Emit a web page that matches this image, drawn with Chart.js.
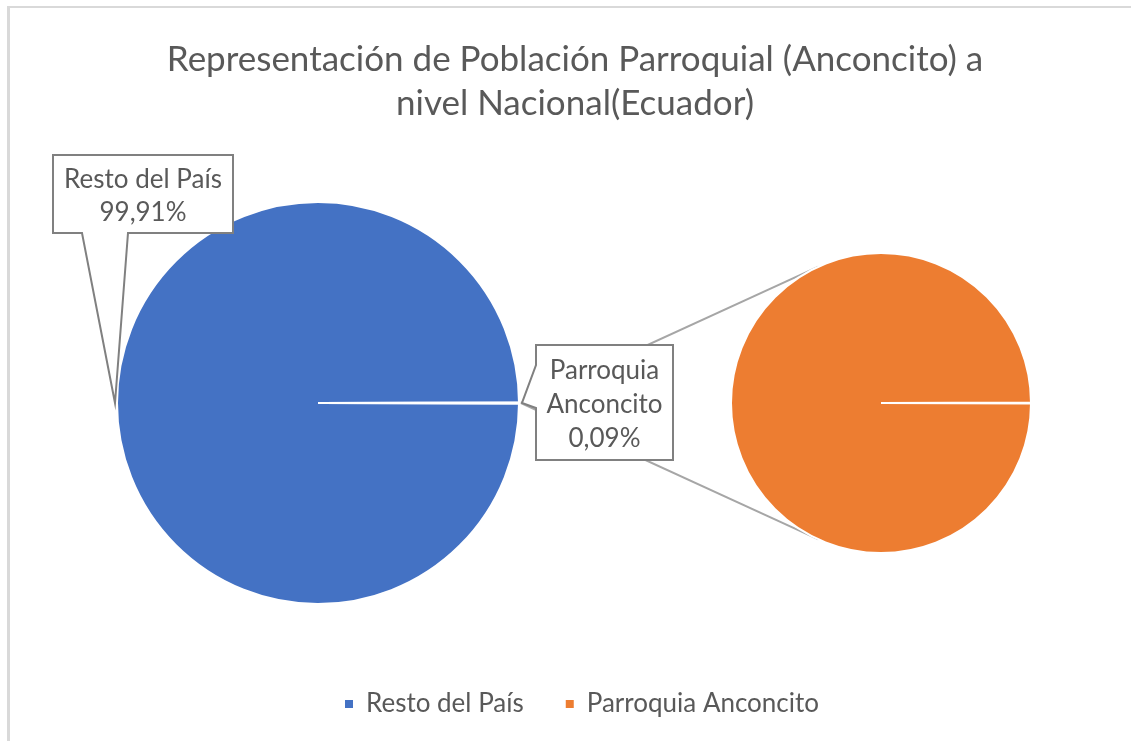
<!DOCTYPE html>
<html lang="es">
<head>
<meta charset="utf-8">
<title>Población Parroquial Anconcito</title>
<script src="https://cdn.jsdelivr.net/npm/chart.js@4.4.1/dist/chart.umd.min.js"></script>
<style>
  html, body { margin: 0; padding: 0; background: #fff; }
  #wrap { position: relative; width: 1131px; height: 741px; overflow: hidden; }
  #frame { position: absolute; left: 7px; top: 6px; width: 1200px; height: 800px;
           border-left: 3px solid #d9d9d9; border-top: 2px solid #d9d9d9; }
  #mainChart { position: absolute; left: 0; top: 0; }
  #otherChart { position: absolute; left: 721px; top: 243px; }
</style>
</head>
<body>
<div id="wrap">
  <div id="frame"></div>
  <canvas id="mainChart" width="1131" height="741"></canvas>
  <canvas id="otherChart" width="320" height="320"></canvas>
</div>
<script>
'use strict';

//datos: porcentaje de la poblacion nacional
var categories = ['Resto del País', 'Parroquia Anconcito']
var shares = [99.91, 0.09]
var otherCategories = ['Parroquia Anconcito']
var otherShares = [0.09]
var sliceColors = ['#4472C4', '#ED7D31']
var titleLines = ['Representación de Población Parroquial (Anconcito) a', 'nivel Nacional(Ecuador)']

var textColor = '#595959'
var fontFamily = "Lato, 'Open Sans', sans-serif"
var labelSize = 26

//where the main pie sits on the page
var pieArea = { left: 116, top: 201, right: 520, bottom: 605 }

function pct(v){
    return v.toFixed(2).replace('.', ',') + '%'
}

//the second pie (the "pie of pie" breakdown)
var otherChart = new Chart(document.getElementById('otherChart'), {
    type: 'pie',
    data: {
        labels: otherCategories,
        datasets: [{
            data: otherShares,
            backgroundColor: [sliceColors[1]],
            borderColor: '#ffffff',
            borderWidth: 2,
            rotation: 90.15,
            circumference: 359.7
        }]
    },
    options: {
        responsive: false,
        animation: false,
        layout: { padding: 9 },
        plugins: { legend: { display: false }, tooltip: { enabled: false }, title: { display: false } }
    }
})

var placePie = {
    id: 'placePie',
    afterLayout(chart){
        Object.assign(chart.chartArea, pieArea, {
            width: pieArea.right - pieArea.left,
            height: pieArea.bottom - pieArea.top
        })
        //legend sits a little right of centre in the original
        chart.legend.left += 7
        chart.legend.right += 7
    }
}

function drawCallout(ctx, points, lines, cx, cy, gap){
    ctx.beginPath()
    ctx.moveTo(points[0][0], points[0][1])
    for(let i = 1; i < points.length; i++){
        ctx.lineTo(points[i][0], points[i][1])
    }
    ctx.closePath()
    ctx.fillStyle = '#ffffff'
    ctx.fill()
    ctx.strokeStyle = '#808080'
    ctx.lineWidth = 2
    ctx.lineJoin = 'miter'
    ctx.stroke()

    ctx.fillStyle = textColor
    ctx.font = labelSize + 'px ' + fontFamily
    ctx.textAlign = 'center'
    ctx.textBaseline = 'middle'
    let y0 = cy - gap * (lines.length - 1) / 2
    for(let i = 0; i < lines.length; i++){
        ctx.fillText(lines[i], cx, y0 + i * gap)
    }
}

var callouts = {
    id: 'callouts',
    afterDatasetsDraw(chart){
        let ctx = chart.ctx
        let big = chart.getDatasetMeta(0).data[0]
        let cx = big.x, cy = big.y, r = big.outerRadius

        //connector lines from the small slice to the second pie
        let other = otherChart.getDatasetMeta(0).data[0]
        let ox = otherChart.canvas.offsetLeft + other.x
        let oy = otherChart.canvas.offsetTop + other.y
        let orad = other.outerRadius
        let sx = cx + r + 2, sy = cy
        let th = Math.acos(orad / (ox - sx))
        ctx.save()
        ctx.strokeStyle = '#a6a6a6'
        ctx.lineWidth = 2
        for(let s = -1; s <= 1; s += 2){
            ctx.beginPath()
            ctx.moveTo(sx, sy)
            ctx.lineTo(ox - orad * Math.cos(th), oy + s * orad * Math.sin(th))
            ctx.stroke()
        }

        //label "Resto del País"
        let b = { x: 53, y: 155, w: 180, h: 78 }
        drawCallout(ctx, [
            [b.x, b.y], [b.x + b.w, b.y], [b.x + b.w, b.y + b.h],
            [128, b.y + b.h], [cx - r - 2, cy], [82, b.y + b.h], [b.x, b.y + b.h]
        ], [categories[0], pct(shares[0])], b.x + b.w / 2, b.y + b.h / 2 + 2, 33)

        //label "Parroquia Anconcito"
        b = { x: 536, y: 345, w: 137, h: 115 }
        drawCallout(ctx, [
            [b.x, b.y], [b.x + b.w, b.y], [b.x + b.w, b.y + b.h], [b.x, b.y + b.h],
            [b.x, 408], [cx + r + 3, cy], [b.x, 365]
        ], categories[1].split(' ').concat([pct(shares[1])]), b.x + b.w / 2, b.y + b.h / 2 + 2, 34)
        ctx.restore()
    }
}

var mainChart = new Chart(document.getElementById('mainChart'), {
    type: 'pie',
    data: {
        labels: categories,
        datasets: [{
            data: shares,
            backgroundColor: sliceColors,
            borderColor: '#ffffff',
            borderWidth: 2,
            rotation: 90 + shares[1] * 3.6 / 2
        }]
    },
    options: {
        responsive: false,
        animation: false,
        layout: { padding: { left: 19, right: 0, top: 0, bottom: 14 } },
        plugins: {
            tooltip: { enabled: false },
            title: {
                display: true,
                text: titleLines,
                color: textColor,
                font: { family: fontFamily, size: 35, weight: 'normal', lineHeight: 1.25 },
                padding: { top: 38, bottom: 0 }
            },
            legend: {
                position: 'bottom',
                labels: {
                    color: textColor,
                    font: { family: fontFamily, size: labelSize },
                    boxWidth: 8,
                    boxHeight: 8,
                    padding: 42,
                    generateLabels(chart){
                        let items = Chart.overrides.pie.plugins.legend.labels.generateLabels(chart)
                        items.forEach(it => { it.lineWidth = 0 })
                        return items
                    }
                }
            }
        }
    },
    plugins: [placePie, callouts]
})
</script>
</body>
</html>
